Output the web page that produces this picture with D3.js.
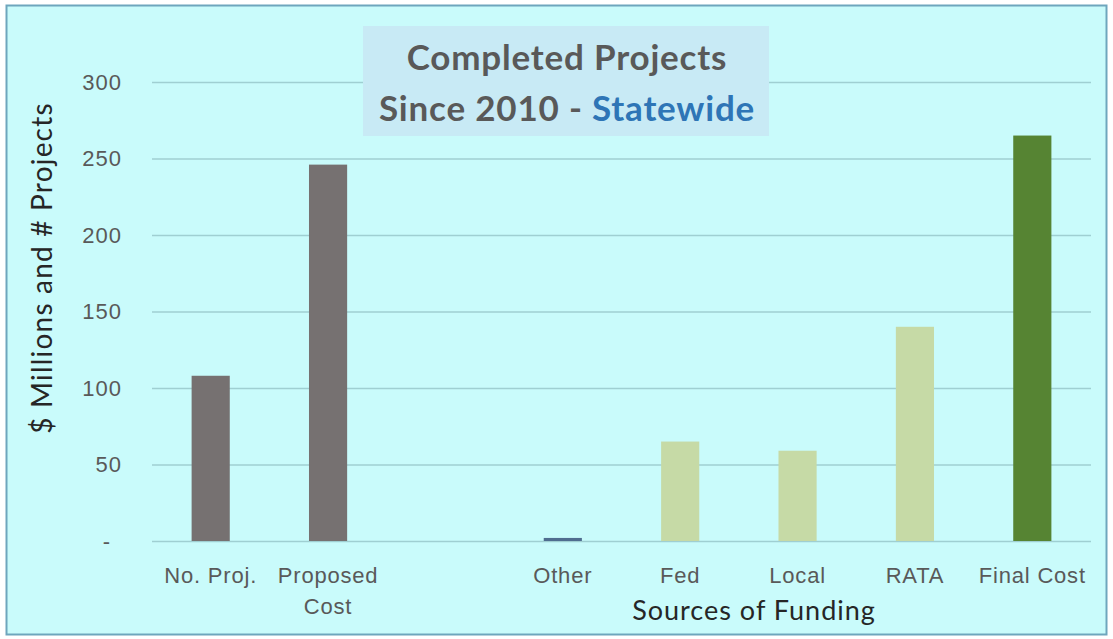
<!DOCTYPE html>
<html>
<head>
<meta charset="utf-8">
<script src="https://cdn.jsdelivr.net/npm/d3@7"></script>
<style>
  html, body { margin: 0; padding: 0; background: #fff; }
  svg { display: block; font-family: Lato, "Open Sans", sans-serif; }
</style>
</head>
<body>
<svg></svg>
<script>
const width = 1113;
const height = 639;

// categories ("" is the empty slot between the two groups)
const categories = ['No. Proj.', 'Proposed\nCost', '', 'Other', 'Fed', 'Local', 'RATA', 'Final Cost'];
const values = [108, 246, null, 2, 65, 59, 140, 265];
const groups = ['proposal', 'proposal', 'none', 'other', 'source', 'source', 'source', 'final'];
const yTicks = [0, 50, 100, 150, 200, 250, 300];

const colors = {
    proposal: '#767171',
    other: '#4f6d8f',
    source: '#c6daa6',
    final: '#568433'
};

const plot = { left: 152, right: 1091, top: 82, bottom: 541 };

const svg = d3.select('svg')
    .attr('width', width)
    .attr('height', height);

// chart background + border
svg.append('rect')
    .attr('x', 6.5)
    .attr('y', 5.5)
    .attr('width', 1100)
    .attr('height', 629)
    .attr('fill', '#c9fbfb')
    .attr('stroke', '#6ea6bd')
    .attr('stroke-width', 2);

const xScale = d3.scaleBand()
    .domain(categories)
    .range([plot.left, plot.right])
    .paddingInner(0.675)
    .paddingOuter(0.3375);

const yScale = d3.scaleLinear()
    .domain([0, 300])
    .range([plot.bottom, plot.top]);

// gridlines + tick labels
const yAxis = d3.axisLeft(yScale)
    .tickValues(yTicks)
    .tickSize(-(plot.right - plot.left))
    .tickPadding(30)
    .tickFormat((d) => d === 0 ? '-' : d);

const gy = svg.append('g')
    .attr('transform', `translate(${plot.left}, 0)`)
    .call(yAxis);

gy.select('.domain').remove();
gy.selectAll('.tick line')
    .attr('stroke', '#9fcfd2')
    .attr('stroke-width', 1.5);
gy.selectAll('.tick text')
    .attr('fill', '#595959')
    .style('font-size', '22px')
    .style('letter-spacing', '1px')
    .attr('dx', (d) => d === 0 ? -11 : 0);

// title box
svg.append('rect')
    .attr('x', 363)
    .attr('y', 26)
    .attr('width', 406)
    .attr('height', 110)
    .attr('fill', '#c8eaf5');

const title = svg.append('text')
    .attr('x', 567)
    .style('text-anchor', 'middle')
    .style('font-size', '35px')
    .style('font-weight', 'bold')
    .style('letter-spacing', '0.8px')
    .attr('fill', '#595959');

title.append('tspan')
    .attr('x', 567)
    .attr('y', 70)
    .text('Completed Projects');

title.append('tspan')
    .attr('x', 567)
    .attr('y', 121)
    .text('Since 2010 - ');

title.append('tspan')
    .attr('fill', '#2e75b6')
    .text('Statewide');

// bars
svg.append('g')
    .selectAll('rect')
    .data(categories.map((c, i) => ({ c, v: values[i], g: groups[i] })).filter((d) => d.v !== null))
    .enter()
    .append('rect')
        .attr('x', (d) => xScale(d.c))
        .attr('width', xScale.bandwidth())
        .attr('y', (d) => yScale(d.v))
        .attr('height', (d) => yScale(0) - yScale(d.v))
        .attr('fill', (d) => colors[d.g]);

// category labels
const xAxis = d3.axisBottom(xScale)
    .tickSize(0)
    .tickPadding(0)
    .tickFormat('');

const gx = svg.append('g')
    .attr('transform', `translate(0, ${plot.bottom})`)
    .call(xAxis);

gx.select('.domain').remove();
gx.selectAll('.tick')
    .append('text')
        .attr('fill', '#595959')
        .style('font-size', '22px')
        .style('letter-spacing', '0.8px')
        .style('text-anchor', 'middle')
        .each(function (d) {
            const lines = d.split('\n');
            d3.select(this).selectAll('tspan')
                .data(lines)
                .enter()
                .append('tspan')
                    .attr('x', 0)
                    .attr('y', (l, i) => 42 + i * 31)
                    .text((l) => l);
        });

// axis titles
svg.append('text')
    .attr('x', 754)
    .attr('y', 620)
    .style('text-anchor', 'middle')
    .style('font-size', '27px')
    .style('letter-spacing', '1px')
    .attr('fill', '#262626')
    .text('Sources of Funding');

svg.append('text')
    .attr('transform', 'rotate(-90)')
    .attr('x', -268)
    .attr('y', 52)
    .style('text-anchor', 'middle')
    .style('font-size', '28px')
    .style('letter-spacing', '1.2px')
    .attr('fill', '#262626')
    .text('$ Millions and # Projects');
</script>
</body>
</html>
